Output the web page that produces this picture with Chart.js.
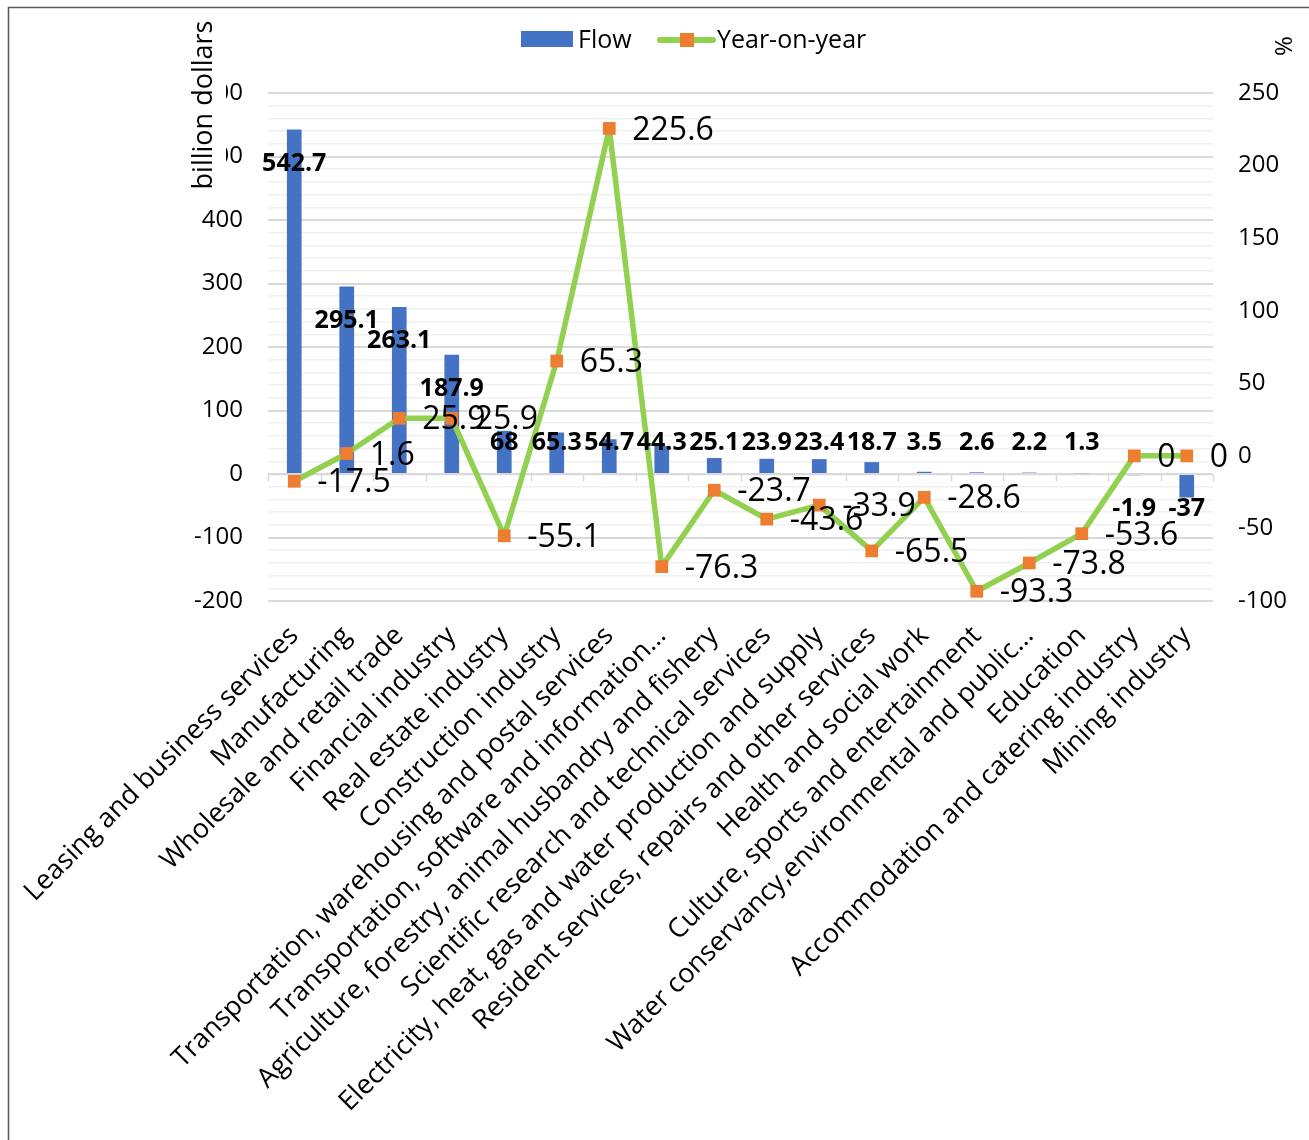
<!DOCTYPE html>
<html>
<head>
<meta charset="utf-8">
<title>Outward FDI flow by industry</title>
<script src="https://cdn.jsdelivr.net/npm/chart.js@4.4.1/dist/chart.umd.min.js"></script>
<style>
  html, body { margin: 0; padding: 0; background: #ffffff; }
  #wrap { width: 1309px; height: 1140px; position: relative; }
</style>
</head>
<body>
<div id="wrap"><canvas id="chart" width="1309" height="1140"></canvas></div>
<script>
// Industries, in display order
const industries = [
  'Leasing and business services',
  'Manufacturing',
  'Wholesale and retail trade',
  'Financial industry',
  'Real estate industry',
  'Construction industry',
  'Transportation, warehousing and postal services',
  'Transportation, software and information…',
  'Agriculture, forestry, animal husbandry and fishery',
  'Scientific research and technical services',
  'Electricity, heat, gas and water production and supply',
  'Resident services, repairs and other services',
  'Health and social work',
  'Culture, sports and entertainment',
  'Water conservancy,environmental and public…',
  'Education',
  'Accommodation and catering industry',
  'Mining industry'
];

// Flow (billion dollars)
const flowValues = [542.7, 295.1, 263.1, 187.9, 68, 65.3, 54.7, 44.3, 25.1, 23.9, 23.4, 18.7, 3.5, 2.6, 2.2, 1.3, -1.9, -37];

// Year-on-year change (%)
const yoyValues = [-17.5, 1.6, 25.9, 25.9, -55.1, 65.3, 225.6, -76.3, -23.7, -43.6, -33.9, -65.5, -28.6, -93.3, -73.8, -53.6, 0, 0];

// Axis ranges and tick steps
const flowAxis = { min: -200, max: 600, labelStep: 100, gridStep: 20 };
const yoyAxis = { min: -100, max: 250, step: 50 };

const FONT = '"Open Sans", "Noto Sans", "DejaVu Sans", sans-serif';
const BLUE = '#4472C4';
const GREEN = '#92D050';
const ORANGE = '#ED7D31';

// Extra drawing: background, zero line with category ticks, value labels, legend, titles, frame
const decorations = {
  id: 'decorations',
  beforeDraw(chart) {
    const ctx = chart.ctx;
    ctx.save();
    ctx.fillStyle = '#ffffff';
    ctx.fillRect(0, 0, chart.width, chart.height);
    ctx.restore();
  },
  beforeDatasetsDraw(chart) {
    const ctx = chart.ctx;
    const x = chart.scales.x;
    const y = chart.scales.y;
    const area = chart.chartArea;
    const y0 = Math.round(y.getPixelForValue(0)) + 0.5;
    const catW = x.getPixelForValue(1) - x.getPixelForValue(0);
    ctx.save();
    ctx.strokeStyle = '#d9d9d9';
    ctx.lineWidth = 1.5;
    ctx.beginPath();
    ctx.moveTo(area.left, y0);
    ctx.lineTo(area.right, y0);
    for (let i = 0; i <= industries.length; i++) {
      const bx = Math.round(x.getPixelForValue(0) - catW / 2 + i * catW) + 0.5;
      ctx.moveTo(bx, y0);
      ctx.lineTo(bx, y0 + 7);
    }
    ctx.stroke();
    ctx.restore();
  },
  afterDatasetsDraw(chart) {
    const ctx = chart.ctx;
    const y = chart.scales.y;
    const zero = y.getPixelForValue(0);
    const lineIdx = chart.data.datasets.findIndex(d => d.type === 'line');
    const barIdx = chart.data.datasets.findIndex(d => d.type === 'bar');
    ctx.save();
    ctx.fillStyle = '#000000';
    // bar values
    ctx.font = 'bold 25px ' + FONT;
    ctx.textAlign = 'center';
    ctx.textBaseline = 'middle';
    chart.getDatasetMeta(barIdx).data.forEach((bar, i) => {
      const v = flowValues[i];
      const top = y.getPixelForValue(v);
      const ly = v >= 0 ? Math.min(top + 34, zero - 31) : zero + 35;
      ctx.fillText(String(v), bar.x, ly);
    });
    // year-on-year values
    ctx.font = '32px ' + FONT;
    ctx.textAlign = 'left';
    chart.getDatasetMeta(lineIdx).data.forEach((pt, i) => {
      ctx.fillText(String(yoyValues[i]), pt.x + 23, pt.y + 2);
    });
    ctx.restore();
  },
  afterDraw(chart) {
    const ctx = chart.ctx;
    ctx.save();
    // outer frame
    ctx.strokeStyle = '#595959';
    ctx.lineWidth = 1.5;
    ctx.strokeRect(8.5, 7.5, 1400, 1200);

    // left axis title on a white box
    ctx.fillStyle = '#ffffff';
    ctx.fillRect(184, 12, 42, 186);
    ctx.translate(204, 105);
    ctx.rotate(-Math.PI / 2);
    ctx.fillStyle = '#000000';
    ctx.font = '27px ' + FONT;
    ctx.textAlign = 'center';
    ctx.textBaseline = 'middle';
    ctx.fillText('billion dollars', 0, 0);
    ctx.setTransform(1, 0, 0, 1, 0, 0);

    // right axis title
    ctx.translate(1285, 46);
    ctx.rotate(-Math.PI / 2);
    ctx.font = '24px ' + FONT;
    ctx.fillText('%', 0, 0);
    ctx.setTransform(1, 0, 0, 1, 0, 0);

    // legend
    const ly = 40;
    ctx.fillStyle = BLUE;
    ctx.fillRect(521, 31, 52, 16);
    ctx.fillStyle = '#000000';
    ctx.font = '25px ' + FONT;
    ctx.textAlign = 'left';
    ctx.textBaseline = 'middle';
    ctx.fillText('Flow', 578, ly + 1);
    ctx.strokeStyle = GREEN;
    ctx.lineWidth = 6;
    ctx.lineCap = 'round';
    ctx.beginPath();
    ctx.moveTo(660, ly);
    ctx.lineTo(713, ly);
    ctx.stroke();
    ctx.fillStyle = ORANGE;
    ctx.fillRect(680, 33, 14, 14);
    ctx.fillStyle = '#000000';
    ctx.fillText('Year-on-year', 717, ly + 1);
    ctx.restore();
  }
};

new Chart(document.getElementById('chart'), {
  data: {
    labels: industries,
    datasets: [
      {
        type: 'line',
        label: 'Year-on-year',
        data: yoyValues,
        yAxisID: 'y1',
        order: 0,
        borderColor: GREEN,
        borderWidth: 5.5,
        borderJoinStyle: 'round',
        tension: 0,
        pointStyle: 'rect',
        pointRadius: 9,
        pointBackgroundColor: ORANGE,
        pointBorderColor: ORANGE,
        pointBorderWidth: 0,
        fill: false
      },
      {
        type: 'bar',
        label: 'Flow',
        data: flowValues,
        yAxisID: 'y',
        order: 1,
        backgroundColor: BLUE,
        borderWidth: 0,
        categoryPercentage: 1,
        barPercentage: 0.28
      }
    ]
  },
  options: {
    responsive: false,
    animation: false,
    devicePixelRatio: 1,
    layout: { padding: { top: 93, left: 0, right: 0, bottom: 0 } },
    plugins: {
      legend: { display: false },
      tooltip: { enabled: false },
      title: { display: false }
    },
    scales: {
      x: {
        type: 'category',
        offset: true,
        grid: { display: false },
        border: { display: false },
        ticks: {
          autoSkip: false,
          minRotation: 45,
          maxRotation: 45,
          padding: 11,
          color: '#000000',
          font: { family: FONT, size: 27 }
        },
        afterFit(scale) { scale.height = 539; }
      },
      y: {
        position: 'left',
        min: flowAxis.min,
        max: flowAxis.max,
        border: { display: false },
        grid: {
          drawTicks: false,
          color: c => (c.tick && c.tick.value % flowAxis.labelStep === 0) ? '#d9d9d9' : '#f0f0f0',
          lineWidth: c => (c.tick && c.tick.value % flowAxis.labelStep === 0) ? 2 : 1.5
        },
        ticks: {
          stepSize: flowAxis.gridStep,
          autoSkip: false,
          padding: 25,
          color: '#000000',
          font: { family: FONT, size: 24 },
          callback: v => (v % flowAxis.labelStep === 0 ? String(v) : '')
        },
        afterFit(scale) { scale.width = 268; }
      },
      y1: {
        position: 'right',
        min: yoyAxis.min,
        max: yoyAxis.max,
        border: { display: false },
        grid: { drawOnChartArea: false, drawTicks: false },
        ticks: {
          stepSize: yoyAxis.step,
          padding: 25,
          color: '#000000',
          font: { family: FONT, size: 24 }
        },
        afterFit(scale) { scale.width = 96; }
      }
    }
  },
  plugins: [decorations]
});
</script>
</body>
</html>
